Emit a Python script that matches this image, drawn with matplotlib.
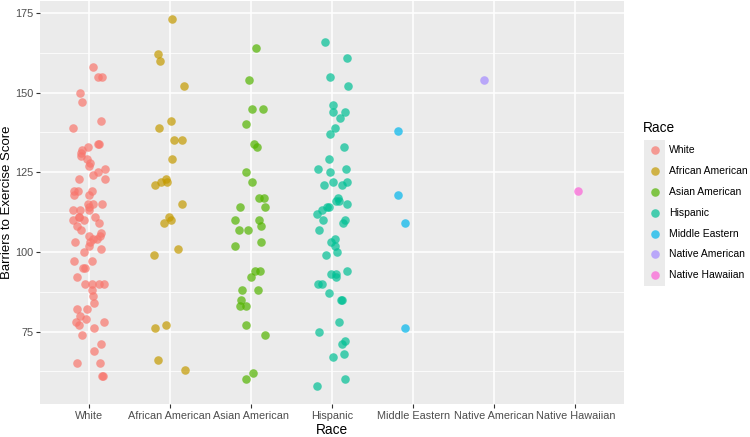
import numpy as np
import matplotlib.pyplot as plt
from matplotlib.patches import Rectangle

plt.rcParams["font.family"] = ["Liberation Sans", "DejaVu Sans"]

races = ["White", "African American", "Asian American", "Hispanic",
         "Middle Eastern", "Native American", "Native Hawaiian"]
colors = ["#F8766D", "#C49A00", "#53B400", "#00C094", "#00B6EB", "#A58AFF", "#FB61D7"]

white = [158, 155, 155, 150, 147, 141, 139, 134, 134, 133, 132, 131, 130, 129,
         127, 128, 126, 125, 124, 123, 123, 119, 119, 119, 118, 118, 115, 115,
         115, 114, 113, 113, 113, 111, 111, 111, 110, 110, 109, 108, 107, 106,
         105, 105, 104, 104, 103, 103, 102, 101, 100, 97, 97, 95, 95, 92, 90,
         90, 90, 90, 88, 86, 84, 82, 82, 80, 79, 78, 78, 77, 76, 74, 71, 69,
         65, 65, 61, 61]
african_american = [173, 162, 160, 152, 141, 139, 135, 135, 129, 123, 122, 122,
                    121, 115, 111, 110, 109, 101, 99, 77, 76, 66, 63]
asian_american = [164, 154, 145, 145, 140, 134, 133, 125, 122, 117, 117, 114,
                  114, 110, 110, 108, 107, 107, 103, 102, 94, 94, 92, 88, 88,
                  85, 83, 83, 77, 74, 62, 60]
hispanic = [166, 161, 155, 152, 146, 144, 144, 142, 139, 137, 133, 129, 126,
            126, 125, 122, 122, 121, 121, 117, 116, 116, 115, 114, 114, 113,
            112, 110, 110, 109, 107, 104, 103, 102, 100, 99, 94, 93, 93, 92,
            90, 90, 87, 85, 85, 78, 75, 72, 71, 68, 67, 60, 58]
middle_eastern = [138, 118, 109, 76]
native_american = [154]
native_hawaiian = [119]

groups = [white, african_american, asian_american, hispanic,
          middle_eastern, native_american, native_hawaiian]

W, H = 750, 437
fig = plt.figure(figsize=(W / 100, H / 100), dpi=100)
fig.patch.set_facecolor("white")

# panel in pixel coords: left, top, right, bottom
pl, pt, pr, pb = 40, 1, 624, 404
ax = fig.add_axes([pl / W, 1 - pb / H, (pr - pl) / W, (pb - pt) / H])
ax.set_facecolor("#EBEBEB")

# geom_jitter(width = 0.2)
rng = np.random.default_rng(7)
for i, (vals, col) in enumerate(zip(groups, colors)):
    x = i + rng.uniform(-0.2, 0.2, len(vals))
    ax.scatter(x, vals, s=38, color=col, alpha=0.7, linewidths=0, zorder=3)

allv = np.concatenate([np.array(g, float) for g in groups])
lo, hi = allv.min(), allv.max()
pad = (hi - lo) * 0.05
ax.set_ylim(lo - pad, hi + pad)
ax.set_xlim(-0.6, len(races) - 0.4)

ax.set_yticks([75, 100, 125, 150, 175])
ax.set_yticks([62.5, 87.5, 112.5, 137.5, 162.5], minor=True)
ax.set_xticks(range(len(races)))
ax.set_xticklabels(races)
ax.grid(which="major", color="white", linewidth=1.1, zorder=0)
ax.grid(which="minor", axis="y", color="white", linewidth=0.55, zorder=0)
ax.set_axisbelow(True)
for s in ax.spines.values():
    s.set_visible(False)
ax.tick_params(which="major", length=3, width=0.8, color="#333333",
               labelsize=7.8, labelcolor="#4D4D4D", pad=2)
ax.tick_params(axis="y", pad=1.5)
ax.tick_params(which="minor", length=0)

# axis titles
fig.text(7 / W, 1 - 202 / H, "Barriers to Exercise Score", rotation=90,
         fontsize=9.5, ha="center", va="center")
fig.text(332 / W, 1 - 430 / H, "Race", fontsize=9.8, ha="center", va="center")

# legend drawn in pixel coordinates like ggplot's guide
lax = fig.add_axes([0, 0, 1, 1])
lax.set_xlim(0, W)
lax.set_ylim(H, 0)
lax.axis("off")
lax.text(643, 128, "Race", fontsize=9.8, ha="left", va="center")
key_top, key_h = 140, 20.8
for i, (name, col) in enumerate(zip(races, colors)):
    yk = key_top + i * key_h
    lax.add_patch(Rectangle((644, yk), 21, key_h, facecolor="#EBEBEB",
                            edgecolor="none"))
    lax.scatter([654.5], [yk + key_h / 2], s=38, color=col, alpha=0.7,
                linewidths=0)
    lax.text(669, yk + key_h / 2, name, fontsize=7.5, ha="left", va="center")

fig.savefig("out.png", dpi=100)
